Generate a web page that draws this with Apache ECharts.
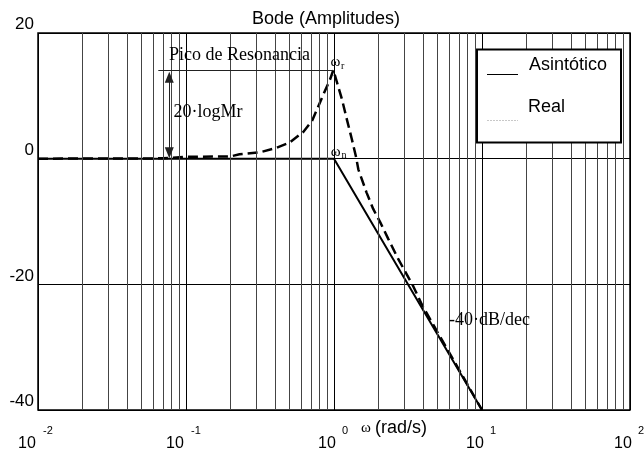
<!DOCTYPE html>
<html><head><meta charset="utf-8">
<script src="https://cdn.jsdelivr.net/npm/echarts@6/dist/echarts.min.js"></script>
<style>html,body{margin:0;padding:0;background:#fff}#c{width:644px;height:452px}</style>
</head><body><div id="c"></div>
<script>
// ---- data ----
const xTickValues = [0.01, 0.1, 1, 10, 100];
const xTickBase = '10';
const xTickExponents = ['-2', '-1', '0', '1', '2'];
const yTicks = [-40, -20, 0, 20];
const minorGridOmega = [0.02,0.03,0.04,0.05,0.06,0.07,0.08,0.09,
  0.2,0.3,0.4,0.5,0.6,0.7,0.8,0.9, 2,3,4,5,6,7,8,9, 20,30,40,50,60,70,80,90];
const seriesNames = ['Asintótico', 'Real'];
const asymOmega = [0.01, 1, 10];
const asymDb = [0, 0, -40];
const realOmega = [0.01, 0.07, 0.1, 0.2, 0.23, 0.32, 0.4, 0.5, 0.62, 0.71, 0.84, 0.94, 0.99,
  1.04, 1.13, 1.22, 1.32, 1.41, 1.46, 1.66, 1.84, 2.05, 2.33, 2.72, 3.1, 3.43, 3.92, 5, 7, 10];
const realDb = [0, 0.05, 0.3, 0.35, 0.7, 1.05, 1.65, 2.55, 4.25, 6.0, 10.0, 12.6, 14.1,
  12.4, 9.5, 6.3, 3.1, 0.25, -1.7, -5.4, -8.0, -10.1, -12.8, -16.0, -18.4, -20.3, -23.2, -27.6, -33.6, -40];
// annotation anchors (data space)
const peakLine = {from: 0.065, to: 0.99, db: 14.0};
const mrArrow = {omega: 0.0771, top: 12.95, bottom: 0.95};

const SANS = '"Liberation Sans", Arial, sans-serif';
const SERIF = '"Liberation Serif", "Times New Roman", serif';

const chart = echarts.init(document.getElementById('c'), null, {renderer: 'canvas'});

function txt(text, x, y, size, family, extra) {
  return Object.assign({
    type: 'text', z: 110, silent: true,
    style: {text: text, x: x, y: y, fontSize: size, fontFamily: family, fill: '#000',
      align: 'left', textAlign: 'left', verticalAlign: 'middle', textVerticalAlign: 'middle'}
  }, extra || {});
}
function tickIndex(v) {
  return xTickValues.findIndex(t => Math.abs(Math.log10(t) - Math.log10(v)) < 1e-6);
}
const logAxisBase = {
  type: 'log', logBase: 10, min: xTickValues[0], max: xTickValues[xTickValues.length - 1],
  gridIndex: 0, position: 'bottom',
  axisLine: {show: false}, axisTick: {show: false}
};

const option = {
  animation: false,
  backgroundColor: '#fff',
  title: {
    text: 'Bode (Amplitudes)', left: 252, top: 10, padding: 0,
    textStyle: {fontFamily: SANS, fontSize: 18, fontWeight: 'normal', color: '#000', lineHeight: 18}
  },
  grid: {left: 38, right: 14, top: 33, bottom: 42, show: true, borderColor: '#000', borderWidth: 1.5,
    backgroundColor: 'transparent', containLabel: false, outerBoundsMode: 'none'},
  xAxis: [
    Object.assign({}, logAxisBase, {
      splitLine: {show: true, lineStyle: {color: '#000', width: 1}},
      axisLabel: {
        margin: 27, showMinLabel: true, showMaxLabel: true, align: 'center',
        formatter: function (v) {
          const i = tickIndex(v);
          if (i < 0) return '';
          return '{b' + (xTickExponents[i].length > 1 ? '2' : '1') + '|' + xTickBase + '}';
        },
        rich: {
          b2: {fontFamily: SANS, fontSize: 16, lineHeight: 14, color: '#000', padding: [0, 22, 0, 0]},
          b1: {fontFamily: SANS, fontSize: 16, lineHeight: 14, color: '#000', padding: [0, 14, 0, 0]}
        }
      }
    }),
    Object.assign({}, logAxisBase, {
      splitLine: {show: false},
      axisLabel: {
        margin: 16, showMinLabel: true, showMaxLabel: true, align: 'center',
        formatter: function (v) {
          const i = tickIndex(v);
          if (i < 0) return '';
          return '{s' + (xTickExponents[i].length > 1 ? '2' : '1') + '|' + xTickExponents[i] + '}';
        },
        rich: {
          s2: {fontFamily: SANS, fontSize: 11, lineHeight: 10, color: '#000', padding: [0, 0, 0, 20]},
          s1: {fontFamily: SANS, fontSize: 11, lineHeight: 10, color: '#000', padding: [0, 0, 0, 22]}
        }
      }
    })
  ],
  yAxis: {
    type: 'value', min: yTicks[0], max: yTicks[yTicks.length - 1], interval: 20,
    axisLine: {show: false}, axisTick: {show: false},
    splitLine: {show: true, lineStyle: {color: '#000', width: 1}},
    axisLabel: {
      margin: 4, fontFamily: SANS, fontSize: 17, color: '#000', verticalAlign: 'bottom',
      lineHeight: 17,
      formatter: v => String(v)
    }
  },
  series: [
    {
      name: 'minor-grid', type: 'line', data: [], z: 1, silent: true,
      markLine: {
        silent: true, symbol: 'none', label: {show: false}, animation: false,
        lineStyle: {color: '#444', width: 1, type: 'solid'},
        emphasis: {disabled: true},
        data: minorGridOmega.map(v => ({xAxis: v}))
      }
    },
    {
      name: seriesNames[0], type: 'line', z: 3, showSymbol: false, symbol: 'none',
      lineStyle: {color: '#000', width: 2, type: 'solid'},
      data: asymOmega.map((w, i) => [w, asymDb[i]])
    },
    {
      name: seriesNames[1], type: 'line', z: 4, showSymbol: false, symbol: 'none',
      lineStyle: {color: '#000', width: 2.5, type: [10, 5]},
      data: realOmega.map((w, i) => [w, realDb[i]])
    },
    {
      name: 'annotations', type: 'line', data: [], z: 5, silent: true,
      markLine: {
        silent: true, symbol: 'none', label: {show: false}, animation: false,
        emphasis: {disabled: true},
        lineStyle: {color: '#222', width: 1, type: 'solid'},
        data: [
          [{coord: [peakLine.from, peakLine.db]}, {coord: [peakLine.to, peakLine.db]}],
          [{coord: [mrArrow.omega, mrArrow.top], symbol: 'triangle', symbolSize: [9, 11]},
           {coord: [mrArrow.omega, mrArrow.bottom], symbol: 'triangle', symbolSize: [9, 11]}]
        ]
      }
    }
  ],
  graphic: [
    txt('Pico de Resonancia', 169, 55.6, 18, SERIF),
    txt('20·logMr', 173.5, 112.2, 18, SERIF),
    txt('ω', 330.5, 62.4, 15, SERIF),
    txt('r', 341, 66.6, 10, SERIF),
    txt('ω', 330.7, 151.9, 15, SERIF),
    txt('n', 341.5, 155.6, 10, SERIF),
    txt('-40·dB/dec', 449, 320.6, 18, SERIF),
    txt('ω', 361, 428.5, 15, SERIF),
    txt('(rad/s)', 375, 427.7, 18, SANS),
    {
      type: 'group', z: 100,
      children: [
        {type: 'rect', z: 100, silent: true, shape: {x: 477, y: 49.5, width: 144, height: 93},
          style: {fill: '#fff', stroke: '#000', lineWidth: 2}},
        {type: 'line', z: 101, silent: true, shape: {x1: 487, y1: 74.5, x2: 518, y2: 74.5},
          style: {stroke: '#000', lineWidth: 1}},
        {type: 'line', z: 101, silent: true, shape: {x1: 487, y1: 120.5, x2: 518, y2: 120.5},
          style: {stroke: '#c8c8c8', lineWidth: 1, lineDash: [2, 1]}},
        txt(seriesNames[0], 529, 65.1, 18, SANS, {z: 102}),
        txt(seriesNames[1], 528, 107.4, 18, SANS, {z: 102})
      ]
    }
  ]
};
chart.setOption(option);
</script>
</body></html>
